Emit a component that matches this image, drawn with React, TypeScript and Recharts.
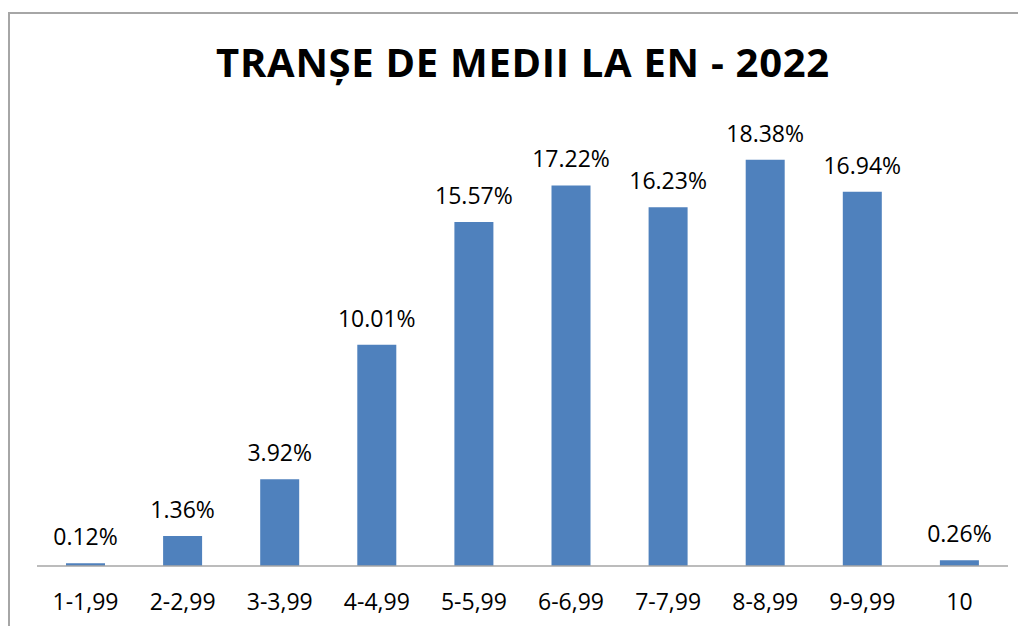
import { BarChart, Bar, XAxis, YAxis, LabelList } from 'recharts'

const categories = ['1-1,99', '2-2,99', '3-3,99', '4-4,99', '5-5,99', '6-6,99', '7-7,99', '8-8,99', '9-9,99', '10']
const shares = [0.12, 1.36, 3.92, 10.01, 15.57, 17.22, 16.23, 18.38, 16.94, 0.26]

const data = categories.map((name, i) => ({ name, value: shares[i] }))

const font = '"Open Sans", sans-serif'

export default function App() {
  return (
    <div
      style={{
        position: 'relative',
        width: 1018,
        height: 614,
        marginTop: 4,
        boxSizing: 'border-box',
        borderLeft: '2px solid #a6a6a6',
        borderTop: '2px solid #a6a6a6',
        overflow: 'hidden',
        background: '#fff',
      }}
    >
      <div
        style={{
          position: 'absolute',
          left: 0,
          right: 0,
          top: 28,
          paddingLeft: 10,
          textAlign: 'center',
          fontFamily: font,
          fontWeight: 700,
          fontSize: 40,
          lineHeight: 1,
          letterSpacing: 0.7,
          color: '#000',
        }}
      >
        TRANȘE DE MEDII LA EN - 2022
      </div>
      <BarChart width={1016} height={612} data={data} margin={{ top: 110, right: 18, bottom: 0, left: 27 }}>
        <XAxis
          dataKey="name"
          height={60}
          tickLine={false}
          tickMargin={22}
          axisLine={{ stroke: '#a6a6a6', strokeWidth: 1.5 }}
          tick={{ fill: '#000', fontSize: 23, fontFamily: font }}
          interval={0}
        />
        <YAxis hide domain={[0, 20]} />
        <Bar dataKey="value" fill="#4f81bd" barSize={39} isAnimationActive={false}>
          <LabelList
            dataKey="value"
            position="top"
            offset={18}
            formatter={(v: number) => `${v.toFixed(2)}%`}
            style={{ fill: '#000', fontSize: 23, fontFamily: font }}
          />
        </Bar>
      </BarChart>
    </div>
  )
}
